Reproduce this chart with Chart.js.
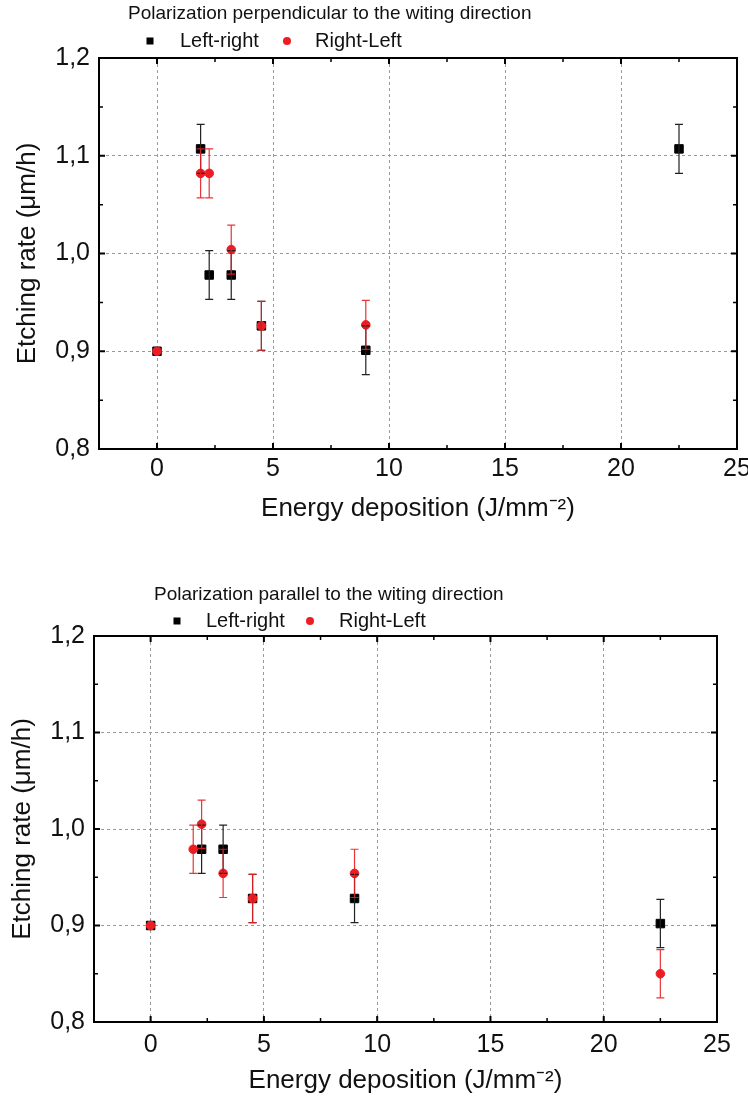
<!DOCTYPE html>
<html>
<head>
<meta charset="utf-8">
<title>Etching rate vs energy deposition</title>
<script src="https://cdn.jsdelivr.net/npm/chart.js@4.4.0/dist/chart.umd.min.js"></script>
<style>
  html, body { margin: 0; padding: 0; background: #ffffff; }
  #wrap { position: relative; width: 748px; height: 1096px; overflow: hidden; }
  canvas { position: absolute; left: 0; }
  #perp { top: 0; }
  #para { top: 548px; }
</style>
</head>
<body>
<div id="wrap">
  <canvas id="perp" width="748" height="548"></canvas>
  <canvas id="para" width="748" height="548"></canvas>
</div>
<script>
// ---- data ----
const seriesNames = ['Left-right', 'Right-Left'];
const xTicks = [0, 5, 10, 15, 20, 25];
const xMinorTicks = [2.5, 7.5, 12.5, 17.5, 22.5];
const yTicks = [0.8, 0.9, 1.0, 1.1, 1.2];
const yTickLabels = ['0,8', '0,9', '1,0', '1,1', '1,2'];
const yMinorTicks = [0.85, 0.95, 1.05, 1.15];

// polarization perpendicular to the writing direction
const perpLeftRightEnergy = [0, 1.88, 2.25, 3.2, 4.5, 9.0, 22.5];
const perpLeftRightRate   = [0.900, 1.107, 0.978, 0.978, 0.926, 0.901, 1.107];
const perpLeftRightError  = [0, 0.025, 0.025, 0.025, 0.025, 0.025, 0.025];
const perpRightLeftEnergy = [0, 1.88, 2.25, 3.2, 4.5, 9.0];
const perpRightLeftRate   = [0.900, 1.082, 1.082, 1.004, 0.926, 0.927];
const perpRightLeftError  = [0, 0.025, 0.025, 0.025, 0.025, 0.025];

// polarization parallel to the writing direction
const paraLeftRightEnergy = [0, 2.25, 3.2, 4.5, 9.0, 22.5];
const paraLeftRightRate   = [0.900, 0.979, 0.979, 0.928, 0.928, 0.902];
const paraLeftRightError  = [0, 0.025, 0.025, 0.025, 0.025, 0.025];
const paraRightLeftEnergy = [0, 1.88, 2.25, 3.2, 4.5, 9.0, 22.5];
const paraRightLeftRate   = [0.900, 0.979, 1.005, 0.954, 0.928, 0.954, 0.850];
const paraRightLeftError  = [0, 0.025, 0.025, 0.025, 0.025, 0.025, 0.025];

const FONT = "'Liberation Sans', Arial, Helvetica, sans-serif";
const TEXT = '#111111';
const BLACK = '#000000';
const RED = '#ee1d23';

// ---- plugins ----
// vertical error bars with caps, placed through the chart's scales
const errorBarPlugin = {
  id: 'errorBars',
  afterDatasetsDraw(chart) {
    const { ctx, chartArea: a, scales: { x, y } } = chart;
    ctx.save();
    ctx.beginPath();
    ctx.rect(a.left, a.top, a.right - a.left, a.bottom - a.top);
    ctx.clip();
    chart.data.datasets.forEach(ds => {
      if (!ds.errors) return;
      ctx.strokeStyle = ds.errorColor;
      ctx.lineWidth = 1.2;
      ds.data.forEach((p, i) => {
        const e = ds.errors[i];
        if (!e) return;
        const px = x.getPixelForValue(p.x);
        const lo = y.getPixelForValue(p.y - e);
        const hi = y.getPixelForValue(p.y + e);
        ctx.beginPath();
        ctx.moveTo(px, lo); ctx.lineTo(px, hi);
        ctx.moveTo(px - 4, lo); ctx.lineTo(px + 4, lo);
        ctx.moveTo(px - 4, hi); ctx.lineTo(px + 4, hi);
        ctx.stroke();
      });
    });
    ctx.restore();
  }
};

// closed frame with inward major/minor tick marks on all four sides
const framePlugin = {
  id: 'frame',
  afterDraw(chart) {
    const { ctx, chartArea: a, scales: { x, y } } = chart;
    ctx.save();
    ctx.strokeStyle = BLACK;
    ctx.lineWidth = 2;
    ctx.beginPath();
    ctx.moveTo(a.left - 1, a.top);
    ctx.lineTo(a.right, a.top);
    ctx.lineTo(a.right, a.bottom + 1);
    ctx.stroke();
    const marks = (vals, len, w) => {
      ctx.lineWidth = w;
      ctx.beginPath();
      vals.forEach(v => {
        const px = x.getPixelForValue(v);
        if (px <= a.left + 1 || px >= a.right - 1) return;
        ctx.moveTo(px, a.bottom); ctx.lineTo(px, a.bottom - len);
        ctx.moveTo(px, a.top); ctx.lineTo(px, a.top + len);
      });
      ctx.stroke();
    };
    const marksY = (vals, len, w) => {
      ctx.lineWidth = w;
      ctx.beginPath();
      vals.forEach(v => {
        const py = y.getPixelForValue(v);
        if (py <= a.top + 1 || py >= a.bottom - 1) return;
        ctx.moveTo(a.left, py); ctx.lineTo(a.left + len, py);
        ctx.moveTo(a.right, py); ctx.lineTo(a.right - len, py);
      });
      ctx.stroke();
    };
    marks(xTicks, 6, 2);
    marks(xMinorTicks, 4, 1.5);
    marksY(yTicks, 6, 2);
    marksY(yMinorTicks, 4, 1.5);
    ctx.restore();
  }
};

// heading line and series key above the plot
const headerPlugin = {
  id: 'header',
  afterDraw(chart, args, opts) {
    const ctx = chart.ctx;
    ctx.save();
    ctx.textAlign = 'left';
    ctx.textBaseline = 'middle';
    ctx.fillStyle = TEXT;
    ctx.font = '19px ' + FONT;
    ctx.fillText(opts.text, opts.titleX, opts.titleY);
    ctx.font = '20px ' + FONT;
    chart.data.datasets.forEach((ds, i) => {
      const mx = opts.markX[i], my = opts.legendY;
      ctx.fillStyle = ds.pointBackgroundColor;
      if (ds.pointStyle === 'rect') {
        ctx.fillRect(mx - 3.5, my - 3.5, 7, 7);
      } else {
        ctx.beginPath();
        ctx.arc(mx, my, 4, 0, Math.PI * 2);
        ctx.fill();
      }
      ctx.fillStyle = TEXT;
      ctx.fillText(ds.label, opts.textX[i], my);
    });
    ctx.restore();
  }
};

Chart.register(errorBarPlugin, framePlugin, headerPlugin);

function points(xs, ys) {
  return xs.map((v, i) => ({ x: v, y: ys[i] }));
}

function makeChart(canvasId, heading, lay, lr, rl) {
  const H = 548;
  return new Chart(document.getElementById(canvasId), {
    type: 'scatter',
    data: {
      datasets: [
        {
          label: seriesNames[0],
          data: points(lr[0], lr[1]),
          errors: lr[2],
          errorColor: '#222222',
          pointStyle: 'rect',
          pointRadius: 6,
          pointBackgroundColor: BLACK,
          pointBorderColor: BLACK,
          pointBorderWidth: 1,
          backgroundColor: BLACK,
          borderColor: BLACK,
          order: 1
        },
        {
          label: seriesNames[1],
          data: points(rl[0], rl[1]),
          errors: rl[2],
          errorColor: 'rgba(232,30,36,0.9)',
          pointStyle: 'circle',
          pointRadius: 4.3,
          pointBackgroundColor: RED,
          pointBorderColor: RED,
          pointBorderWidth: 1,
          backgroundColor: RED,
          borderColor: RED,
          order: 0
        }
      ]
    },
    options: {
      responsive: false,
      animation: false,
      devicePixelRatio: 1,
      events: [],
      layout: { padding: { top: lay.top, right: 748 - lay.right, bottom: 0, left: 0 } },
      plugins: {
        legend: { display: false },
        title: { display: false },
        tooltip: { enabled: false },
        header: lay.header && Object.assign({ text: heading }, lay.header)
      },
      scales: {
        x: {
          type: 'linear',
          min: -2.5,
          max: 25,
          afterBuildTicks: s => { s.ticks = xTicks.map(v => ({ value: v })); },
          afterFit: s => { s.height = H - lay.bottom; s.paddingLeft = 0; s.paddingRight = 0; },
          grid: { color: '#9a9a9a', lineWidth: 1, drawTicks: false },
          border: { display: true, color: BLACK, width: 2, dash: [3, 3] },
          ticks: {
            padding: lay.xTickPad,
            color: TEXT,
            font: { family: FONT, size: 25 },
            maxRotation: 0,
            autoSkip: false,
            callback: v => String(v)
          },
          title: {
            display: true,
            text: 'Energy deposition (J/mm\u207B\u00B2)',
            color: TEXT,
            font: { family: FONT, size: 26 },
            padding: { top: 0, bottom: lay.xTitlePad }
          }
        },
        y: {
          type: 'linear',
          min: 0.8,
          max: 1.2,
          afterBuildTicks: s => { s.ticks = yTicks.map(v => ({ value: v })); },
          afterFit: s => { s.width = lay.left; s.paddingTop = 0; s.paddingBottom = 0; },
          grid: { color: '#9a9a9a', lineWidth: 1, drawTicks: false },
          border: { display: true, color: BLACK, width: 2, dash: [3, 3] },
          ticks: {
            padding: lay.yTickPad,
            color: TEXT,
            font: { family: FONT, size: 25 },
            autoSkip: false,
            callback: v => yTickLabels[yTicks.indexOf(v)]
          },
          title: {
            display: true,
            text: 'Etching rate (\u03BCm/h)',
            color: TEXT,
            font: { family: FONT, size: 26 },
            padding: { top: lay.yTitlePad, bottom: 0 }
          }
        }
      }
    }
  });
}

makeChart('perp', 'Polarization perpendicular to the witing direction',
  { top: 58, bottom: 449, left: 99, right: 737, xTickPad: 5, xTitlePad: 24, yTickPad: 9, yTitlePad: 12,
    header: { titleX: 128, titleY: 14, legendY: 41, markX: [150, 287], textX: [180, 315] } },
  [perpLeftRightEnergy, perpLeftRightRate, perpLeftRightError],
  [perpRightLeftEnergy, perpRightLeftRate, perpRightLeftError]);

makeChart('para', 'Polarization parallel to the witing direction',
  { top: 88, bottom: 474, left: 94, right: 717, xTickPad: 8, xTitlePad: 0, yTickPad: 9, yTitlePad: 7,
    header: { titleX: 154, titleY: 47, legendY: 73, markX: [177, 310], textX: [206, 339] } },
  [paraLeftRightEnergy, paraLeftRightRate, paraLeftRightError],
  [paraRightLeftEnergy, paraRightLeftRate, paraRightLeftError]);
</script>
</body>
</html>
